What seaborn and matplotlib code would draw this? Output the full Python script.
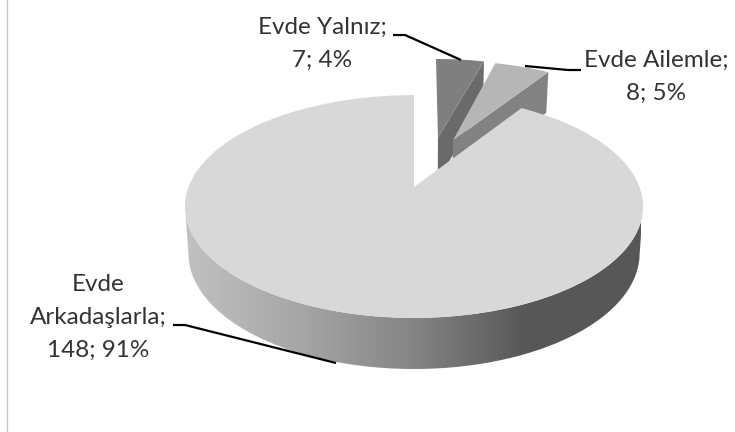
"""Exploded 3D looking pie of where people live, drawn with a perspective transform."""
import numpy as np
import matplotlib
matplotlib.use('Agg')
import matplotlib.pyplot as plt
import seaborn as sns
from matplotlib.patches import PathPatch
from matplotlib.path import Path
from matplotlib.transforms import Transform, Affine2D

# %%
# values
categories = ['Evde Yalnız', 'Evde Ailemle', 'Evde\nArkadaşlarla']
counts = [7, 8, 148]
percents = [4, 5, 91]
explode = [0.5, 0.5, 0]

# %%
sns.set_theme(style='white')
plt.rcParams['font.family'] = ['Lato', 'DejaVu Sans']

top_colors = ['#7f7f7f', '#b6b6b6', '#d8d8d8']
side_colors = ['#6a6a6a', '#828282']
nudge = [(10, 0), (-4, -1), (0, 0)]
side_cmap = sns.blend_palette(['#c2c2c2', '#a6a6a6', '#858585', '#575757', '#575757'], as_cmap=True)


def project(u, v, depth=0.0):
    # unit disk to pixels, the near edge is drawn bigger than the far one
    k = 0.175
    den = 1 + k * v
    x = 225.5 * u / den
    y = 187 - 108 * v / den
    if depth:
        x = x * 0.985
        y = y + depth * 46 / (1 + 0.1 * v)
    return x + 414, y


class DiskTransform(Transform):
    input_dims = 2
    output_dims = 2
    is_separable = False

    def transform_non_affine(self, values):
        x, y = project(values[:, 0], values[:, 1])
        return np.column_stack([x, y])


fig = plt.figure(figsize=(7.35, 4.32), dpi=100)
ax = fig.add_axes([0, 0, 1, 1])
wedges, _ = ax.pie(counts, explode=explode, startangle=90, counterclock=False,
                   colors=top_colors, wedgeprops={'linewidth': 0})
ax.set_aspect('auto')
ax.set_xlim(0, 735)
ax.set_ylim(432, 0)
ax.axis('off')

# %%
# the radial side that can be seen on the two small slices
for i in [0, 1]:
    w = wedges[i]
    cu, cv = w.center
    a = np.radians(w.theta1)
    us = np.array([cu, cu + np.cos(a)])
    vs = np.array([cv, cv + np.sin(a)])
    x0, y0 = project(us, vs)
    x1, y1 = project(us, vs, depth=1)
    ax.fill(np.r_[x0, x1[::-1]] + nudge[i][0], np.r_[y0, y1[::-1]] + nudge[i][1],
            color=side_colors[i], lw=0, zorder=1 + 2 * i)
    w.set_zorder(2 + 2 * i)

# %%
# outer wall of the big slice, between the two widest points of the ellipse
angles = np.radians(np.linspace(190, 350, 200))
xt, yt = project(np.cos(angles), np.sin(angles))
xb, yb = project(np.cos(angles), np.sin(angles), depth=1)
wall = Path(np.column_stack([np.r_[xt, xb[::-1]], np.r_[yt, yb[::-1]]]))
clip = PathPatch(wall, transform=ax.transData, fc='none', lw=0)
ax.add_patch(clip)
im = ax.imshow(np.linspace(0, 1, 256)[None, :], cmap=side_cmap, aspect='auto',
               extent=(184, 641, 400, 150), zorder=5)
im.set_clip_path(clip)
ax.set_xlim(0, 735)
ax.set_ylim(432, 0)

for w, (dx, dy) in zip(wedges, nudge):
    w.set_transform(DiskTransform() + Affine2D().translate(dx, dy) + ax.transData)
wedges[2].set_zorder(6)

# %%
# labels and leader lines
label_pos = [(322, 44), (656, 77), (98, 317)]
leaders = [([393, 405, 461], [35, 35, 60]),
           ([581, 568, 525], [70, 70, 66]),
           ([173, 185, 336], [325, 325, 363])]
for name, n, pct, (x, y), (lx, ly) in zip(categories, counts, percents, label_pos, leaders):
    ax.text(x, y, f'{name};\n{n}; {pct}%', ha='center', va='center', fontsize=17.5,
            color='#333333', linespacing=1.7, zorder=8)
    ax.plot(lx, ly, color='black', lw=1.6, solid_capstyle='butt', zorder=7)

ax.plot([7, 7], [0, 432], color='#c8c8c8', lw=1, zorder=0)

plt.savefig('out.png', dpi=100, facecolor='white')
